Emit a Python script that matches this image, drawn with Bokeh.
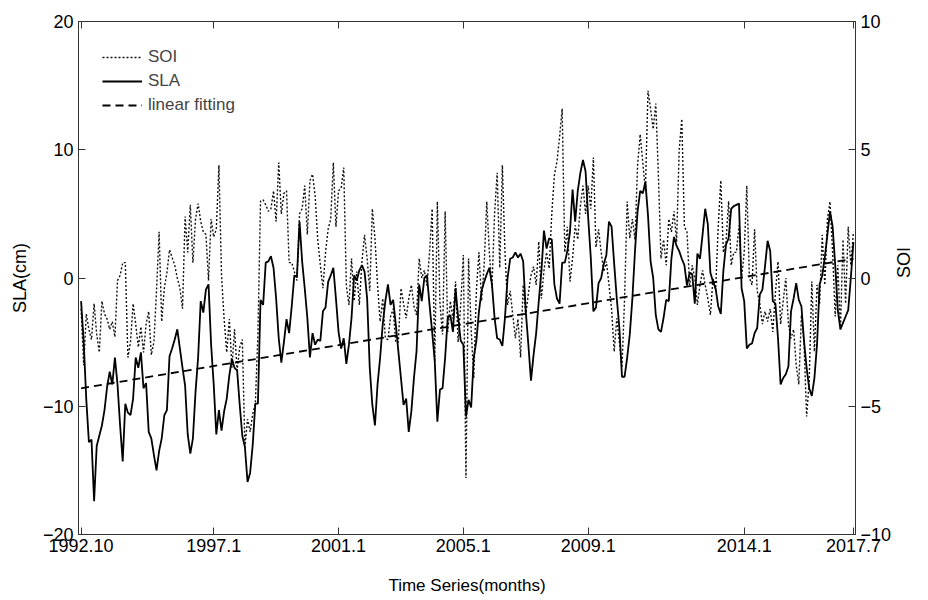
import math
from bokeh.plotting import figure
from bokeh.models import LinearAxis, Range1d, FixedTicker, Legend, LegendItem
from bokeh.embed import file_html
from bokeh.resources import INLINE

tick_months = [0, 51, 99, 147, 195, 255, 297]
tick_labels = ["1992.10", "1997.1", "2001.1", "2005.1", "2009.1", "2014.1", "2017.7"]

sla = [
    -1.8, -5.0, -9.5, -12.8, -12.6, -17.4, -13.1, -12.3, -11.5, -10.3,
    -8.5, -7.3, -8.3, -6.2, -8.3, -11.5, -14.3, -9.8, -10.5,
    -10.7, -9.4, -6.2, -7.0, -5.8, -8.6, -8.2, -12.0, -12.5, -13.8,
    -15.0, -13.5, -12.5, -10.7, -10.3, -6.1, -5.5, -4.8, -4.0, -5.5,
    -7.0, -8.4, -12.2, -13.7, -12.5, -8.9, -6.2, -1.8, -2.7,
    -0.9, -0.5, -5.2, -8.3, -12.2, -10.3, -11.9, -10.4, -9.4, -7.6,
    -6.3, -7.0, -7.2, -9.9, -12.3, -13.2, -15.9, -15.2, -13.0, -9.8,
    -9.8, -1.7, -2.1, 1.2, 1.3, 1.7, 0.8, -1.6, -4.7, -6.6,
    -5.0, -3.2, -4.3, -2.2, 0.2, 0.1, 4.4, 1.3, -0.8,
    -3.1, -6.2, -4.3, -5.2, -4.8, -4.9, -2.6, -2.3, -0.3, 0.2,
    0.8, -1.6, -4.2, -5.5, -4.7, -6.7, -5.2, -3.1, 0.2, -0.2,
    0.6, 1.0, 0.5, -1.6, -7.0, -9.9, -11.5, -8.3, -6.2,
    -3.6, -1.8, -0.5, -2.1, -1.7, -3.6, -5.7, -7.8, -9.9, -9.4,
    -12.0, -10.4, -7.8, -5.7, -0.5, -1.8, 0.0, 0.2, -2.1, -4.2,
    -6.5, -11.2, -8.7, -8.6, -6.2, -3.1, -2.9, -4.2, -0.8,
    -3.1, -4.9, -5.2, -10.8, -9.5, -10.1, -6.2, -4.9, -2.6, -1.0,
    -0.3, 0.3, 0.8, -0.5, -3.1, -4.7, -4.8, -5.3, -3.1, 0.0,
    1.5, 1.6, 2.0, 1.6, 1.9, 1.3, -2.6, -5.2, -8.0, -6.0,
    -4.3, -1.8, 0.5, 3.7, 2.3, 3.1, 3.0, -0.5, -1.6,
    -2.0, 1.2, 1.2, 2.1, 3.6, 6.9, 4.4, 6.8, 8.2, 9.2,
    8.3, 4.7, 1.6, -2.6, -2.3, -0.4, 0.0, 1.1, 1.8, 4.4,
    4.0, 1.1, -1.6, -3.9, -7.7, -7.7, -6.2, -4.4, -1.6,
    2.1, 5.2, 6.8, 6.6, 7.5, 4.9, 1.3, 0.0, -2.9, -4.0,
    -4.2, -3.1, -1.7, -1.8, 1.5, 3.2, 2.5, 2.1, 1.5, 1.0,
    -0.6, 0.4, 0.3, -2.0, 1.9, 1.5, 3.4, 5.4, 4.2,
    0.4, -0.3, -0.8, -2.2, -2.8, 0.6, 2.6, 3.1, 5.4, 5.6,
    5.7, 5.8, -0.8, -1.8, -5.5, -5.2, -5.1, -4.3, -3.9, -1.3,
    -0.9, 0.9, 2.9, 2.1, -1.8, -2.0, -4.7, -8.3, -7.8, -7.5,
    -6.9, -2.6, -1.6, -0.4, -1.7, -2.2, -4.9, -7.0, -8.6,
    -9.2, -7.8, -5.2, -0.5, 0.2, 1.6, 3.4, 5.2,
    4.0, 1.0, -2.5, -4.0, -3.5, -3.0, -2.5, 0.0, 2.8,
]

soi = [
    -1.2, -3.4, -1.4, -2.0, -2.4, -1.0, -2.2, -2.9, -0.9, -1.4,
    -1.6, -2.0, -1.7, -2.3, -0.1, 0.1, 0.6, 0.6, -3.1,
    -2.5, -1.0, -1.8, -2.7, -1.9, -2.9, -1.8, -1.3, -3.0, -2.5,
    -0.5, 1.8, -1.7, -0.4, 0.2, 1.1, 0.8, 0.5, 0.0, -0.4,
    -1.2, 2.4, 1.0, 2.85, 0.6, 2.3, 2.9, 2.2, 1.8,
    1.7, -0.1, 2.3, 1.6, 1.9, 4.4, 0.1, -1.6, -2.9, -1.6,
    -3.5, -2.0, -3.6, -2.7, -2.4, -6.6, -5.5, -6.0, -5.3, -4.9,
    -2.2, 3.0, 3.05, 2.85, 2.6, 2.7, 3.4, 2.2, 4.5, 2.5,
    3.3, 3.4, 0.6, 0.6, 0.25, -0.1, 2.5, 2.7, 3.6,
    1.7, 3.8, 4.05, 3.2, 1.5, 0.5, -0.4, 1.0, 1.9, 2.3,
    4.5, 2.0, 3.4, 3.5, 4.3, -0.3, -1.05, 0.76, -0.9, 0.25,
    -1.05, 0.64, 1.68, 0.76, -0.5, 2.7, 1.55, -0.27, -1.7,
    -0.8, -2.35, -2.4, -1.5, -1.2, -2.5, -2.5, -0.4, -1.0, -1.57,
    -0.8, -0.27, -1.1, -1.44, 0.76, 0.0, 0.3, -0.3, 1.0, 2.7,
    -3.26, 2.98, -1.0, -2.2, 2.6, -2.1, -0.9, -1.57, -0.14,
    -2.5, -1.0, 0.9, -7.8, 0.76, -2.0, -3.9, -0.5, 1.0, -0.9,
    0.5, 2.98, 1.0, -0.4, 2.5, 4.1, 0.4, 4.4, 1.0, -1.05,
    -0.5, -1.44, -2.35, -1.6, -3.1, -0.27, -1.44, -0.6, 0.1, 0.44,
    -0.27, 1.42, -0.8, 0.3, 1.0, 0.37, 2.5, 4.0, 4.55,
    5.5, 6.6, 1.0, 2.0, -0.14, 0.76, 2.05, 1.5, 2.8, 3.6,
    2.5, 3.6, 2.7, 4.7, 1.2, 1.9, 1.0, 0.25, 0.64, -0.27,
    -1.2, -2.87, -1.57, -2.5, -3.5, -0.8, 2.98, 1.55, 2.3,
    1.5, 4.4, 5.6, 4.5, 3.4, 7.3, 6.6, 5.8, 6.8, 4.0,
    0.76, 1.5, 0.5, 2.3, 1.8, 2.6, 1.4, 5.0, 6.2, 2.0,
    1.8, -0.27, 0.5, 0.0, -1.05, -0.27, 0.3, -0.27, -0.8,
    -1.44, 0.0, -0.5, 2.0, 3.8, 1.0, 1.4, 3.0, 0.5, 1.0,
    1.0, 2.05, 0.0, 1.0, 3.6, 0.0, -0.27, 1.9, -0.5, -1.0,
    -1.8, -1.3, -1.7, -1.2, -2.1, -0.6, 0.64, -1.8, -0.9, 0.0,
    -1.8, -2.35, -2.0, -3.4, -4.15, -1.44, -2.5, -5.4, -4.0,
    -0.14, -2.87, -0.27, -1.0, 1.68, -0.27, 2.3, 2.98,
    1.0, -1.5, 0.5, -2.0, 1.5, -1.0, 2.0, 0.5, 1.8,
]

months = list(range(len(sla)))
soi_months = list(range(len(soi)))

fit_x = [0, 297]
fit_y = [-8.6, 1.5]

FONT = "Liberation Sans"
AXC = "#333333"

p = figure(width=928, height=600, output_backend="svg", toolbar_location=None,
           x_range=Range1d(-1, 297.8), y_range=Range1d(-20, 20),
           min_border_left=78, min_border_right=73, min_border_top=21, min_border_bottom=66)
p.extra_y_ranges = {"soi": Range1d(-10, 10)}
p.xgrid.visible = False
p.ygrid.visible = False
p.outline_line_color = AXC
p.outline_line_width = 1
p.background_fill_color = "white"
p.border_fill_color = "white"

r_soi = p.line(soi_months, soi, y_range_name="soi", line_color="#111111", line_width=1.4, line_dash="2 2")
r_sla = p.line(months, sla, line_color="black", line_width=1.8)
r_fit = p.line(fit_x, fit_y, line_color="black", line_width=1.8, line_dash="8 5")

def style_axis(ax):
    ax.major_tick_in = 7
    ax.major_tick_out = 0
    ax.minor_tick_line_color = None
    ax.axis_line_color = AXC
    ax.major_tick_line_color = AXC
    ax.major_label_text_font = FONT
    ax.major_label_text_font_size = "18px"
    ax.major_label_text_color = "black"
    ax.axis_label_text_font = FONT
    ax.axis_label_text_font_style = "normal"
    ax.axis_label_text_color = "black"

xax = p.xaxis[0]
xax.ticker = FixedTicker(ticks=tick_months)
xax.major_label_overrides = {m: lab for m, lab in zip(tick_months, tick_labels)}
style_axis(xax)
xax.axis_label = "Time Series(months)"
xax.axis_label_text_font_size = "17px"
xax.major_label_standoff = 4
xax.axis_label_standoff = 21

yax = p.yaxis[0]
yax.ticker = FixedTicker(ticks=[-20, -10, 0, 10, 20])
style_axis(yax)
yax.axis_label = "SLA(cm)"
yax.axis_label_text_font_size = "18px"
yax.major_label_standoff = 5
yax.axis_label_standoff = 10

rax = LinearAxis(y_range_name="soi", ticker=FixedTicker(ticks=[-10, -5, 0, 5, 10]))
style_axis(rax)
rax.axis_label = "SOI"
rax.axis_label_text_font_size = "18px"
rax.major_label_standoff = 5
rax.axis_label_standoff = 10
if "axis_label_orientation" in rax.properties():
    rax.axis_label_orientation = math.pi / 2
p.add_layout(rax, "right")

tax = LinearAxis(ticker=FixedTicker(ticks=tick_months))
style_axis(tax)
tax.major_label_overrides = {m: "" for m in tick_months}
tax.major_label_standoff = 0
p.add_layout(tax, "above")

legend = Legend(items=[
    LegendItem(label="SOI", renderers=[r_soi]),
    LegendItem(label="SLA", renderers=[r_sla]),
    LegendItem(label="linear fitting", renderers=[r_fit]),
], location="top_left")
legend.border_line_alpha = 0
legend.background_fill_alpha = 0
legend.label_text_font = FONT
legend.label_text_font_size = "17px"
legend.glyph_width = 40
legend.glyph_height = 24
legend.label_height = 24
legend.label_standoff = 6
legend.spacing = 0
legend.margin = 15
legend.padding = 9
p.add_layout(legend)

open("out.html", "w").write(file_html(p, INLINE))
